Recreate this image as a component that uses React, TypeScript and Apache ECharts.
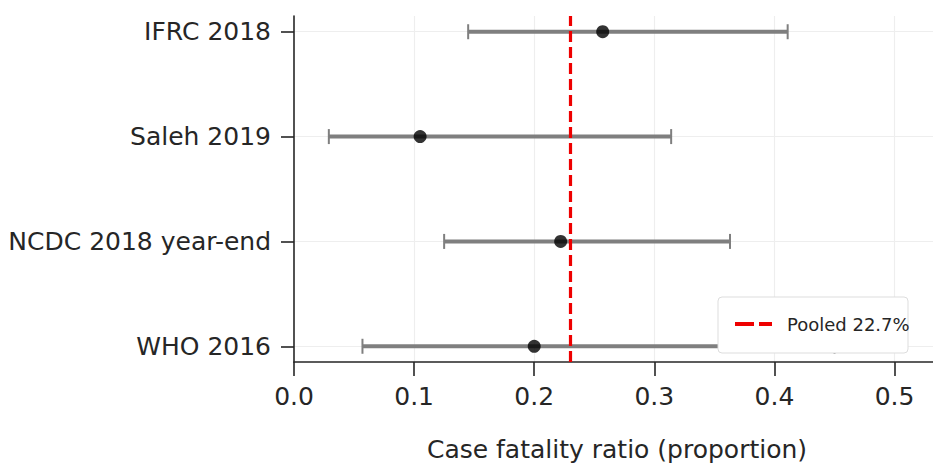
import React, { useEffect, useRef } from "react";
import * as echarts from "echarts";

// Studies listed top to bottom
const studies = ["IFRC 2018", "Saleh 2019", "NCDC 2018 year-end", "WHO 2016"];
const estimates = [0.257, 0.105, 0.222, 0.2];
const lowerCI = [0.145, 0.029, 0.125, 0.057];
const upperCI = [0.411, 0.314, 0.363, 0.45];
const pooled = 0.227;
const xTicks = [0, 0.1, 0.2, 0.3, 0.4, 0.5];

const FONT = "DejaVu Sans";
const INK = "#262626";

export default function App() {
  const ref = useRef<HTMLDivElement>(null);

  useEffect(() => {
    if (!ref.current) return;
    const chart = echarts.init(ref.current, undefined, { renderer: "svg" });
    const n = studies.length;
    const yPos = studies.map((_, i) => n - 1 - i);
    const labelByPos: Record<number, string> = {};
    studies.forEach((s, i) => (labelByPos[yPos[i]] = s));

    const barData = studies.map((_, i) => [yPos[i], lowerCI[i], upperCI[i]]);
    const pointData = studies.map((_, i) => [estimates[i], yPos[i]]);

    const option: any = {
      animation: false,
      backgroundColor: "#ffffff",
      textStyle: { fontFamily: FONT },
      grid: { left: 294, right: 0, top: 16, bottom: 101, containLabel: false },
      xAxis: {
        type: "value",
        min: 0,
        max: 0.532,
        name: "Case fatality ratio (proportion)",
        nameLocation: "middle",
        nameGap: 75,
        nameTextStyle: {
          fontSize: 25,
          color: INK,
          fontFamily: FONT,
          padding: [0, 0, 0, 7],
        },
        axisLine: { show: true, onZero: false, lineStyle: { color: INK, width: 1.6 } },
        axisTick: {
          show: true,
          length: 14,
          customValues: xTicks,
          lineStyle: { color: INK, width: 1.6 },
        },
        axisLabel: {
          fontSize: 25,
          color: INK,
          fontFamily: FONT,
          margin: 22,
          customValues: xTicks,
          formatter: (v: number) => v.toFixed(1),
        },
        splitLine: { show: false },
      },
      yAxis: {
        type: "value",
        min: -0.15,
        max: 3.15,
        axisLine: { show: true, onZero: false, lineStyle: { color: INK, width: 1.6 } },
        axisTick: {
          show: true,
          length: 13,
          customValues: yPos,
          lineStyle: { color: INK, width: 1.6 },
        },
        axisLabel: {
          fontSize: 25,
          color: INK,
          fontFamily: FONT,
          margin: 23,
          customValues: yPos,
          formatter: (v: number) => labelByPos[Math.round(v)] ?? "",
        },
        splitLine: { show: false },
      },
      series: [
        {
          type: "scatter",
          data: [],
          z: 1,
          silent: true,
          markLine: {
            z: 0,
            silent: true,
            symbol: ["none", "none"],
            label: { show: false },
            lineStyle: { color: "#eeeeee", width: 1.2, type: "solid" },
            data: [
              ...yPos.map((y) => ({ yAxis: y })),
              ...xTicks.filter((x) => x > 0).map((x) => ({ xAxis: x })),
            ],
          },
        },
        {
          type: "custom",
          z: 2,
          data: barData,
          encode: { x: [1, 2], y: 0 },
          renderItem: (params: any, api: any) => {
            const y = api.value(0);
            const lo = api.coord([api.value(1), y]);
            const hi = api.coord([api.value(2), y]);
            const cap = 7.5;
            const stroke = "#7f7f7f";
            return {
              type: "group",
              children: [
                {
                  type: "line",
                  shape: { x1: lo[0], y1: lo[1], x2: hi[0], y2: hi[1] },
                  style: { stroke, lineWidth: 4 },
                },
                {
                  type: "line",
                  shape: { x1: lo[0], y1: lo[1] - cap, x2: lo[0], y2: lo[1] + cap },
                  style: { stroke, lineWidth: 2 },
                },
                {
                  type: "line",
                  shape: { x1: hi[0], y1: hi[1] - cap, x2: hi[0], y2: hi[1] + cap },
                  style: { stroke, lineWidth: 2 },
                },
              ],
            };
          },
        },
        {
          type: "scatter",
          z: 3,
          data: pointData,
          symbol: "circle",
          symbolSize: 13,
          itemStyle: { color: "#000000" },
          markLine: {
            z: 10,
            silent: true,
            symbol: ["none", "none"],
            label: { show: false },
            lineStyle: { color: "#ee0000", width: 3.2, type: [11, 5] },
            data: [{ xAxis: pooled }],
          },
        },
      ],
      graphic: [
        {
          type: "group",
          z: 100,
          children: [
            {
              type: "rect",
              shape: { x: 718, y: 297, width: 190, height: 56, r: 4 },
              style: { fill: "#ffffff", stroke: "#dddddd", lineWidth: 1 },
              z: 100,
            },
            {
              type: "line",
              shape: { x1: 735, y1: 324, x2: 772, y2: 324 },
              style: { stroke: "#ee0000", lineWidth: 4, lineDash: [19, 5] },
              z: 101,
            },
            {
              type: "text",
              x: 787,
              y: 324,
              style: {
                text: `Pooled ${(pooled * 100).toFixed(1)}%`,
                fontSize: 18,
                fontFamily: FONT,
                fill: INK,
                verticalAlign: "middle",
                align: "left",
              },
              z: 101,
            },
          ],
        },
      ],
    };

    chart.setOption(option);
    return () => chart.dispose();
  }, []);

  return (
    <div
      ref={ref}
      style={{ position: "absolute", left: 0, top: 0, width: 933, height: 467 }}
    />
  );
}
